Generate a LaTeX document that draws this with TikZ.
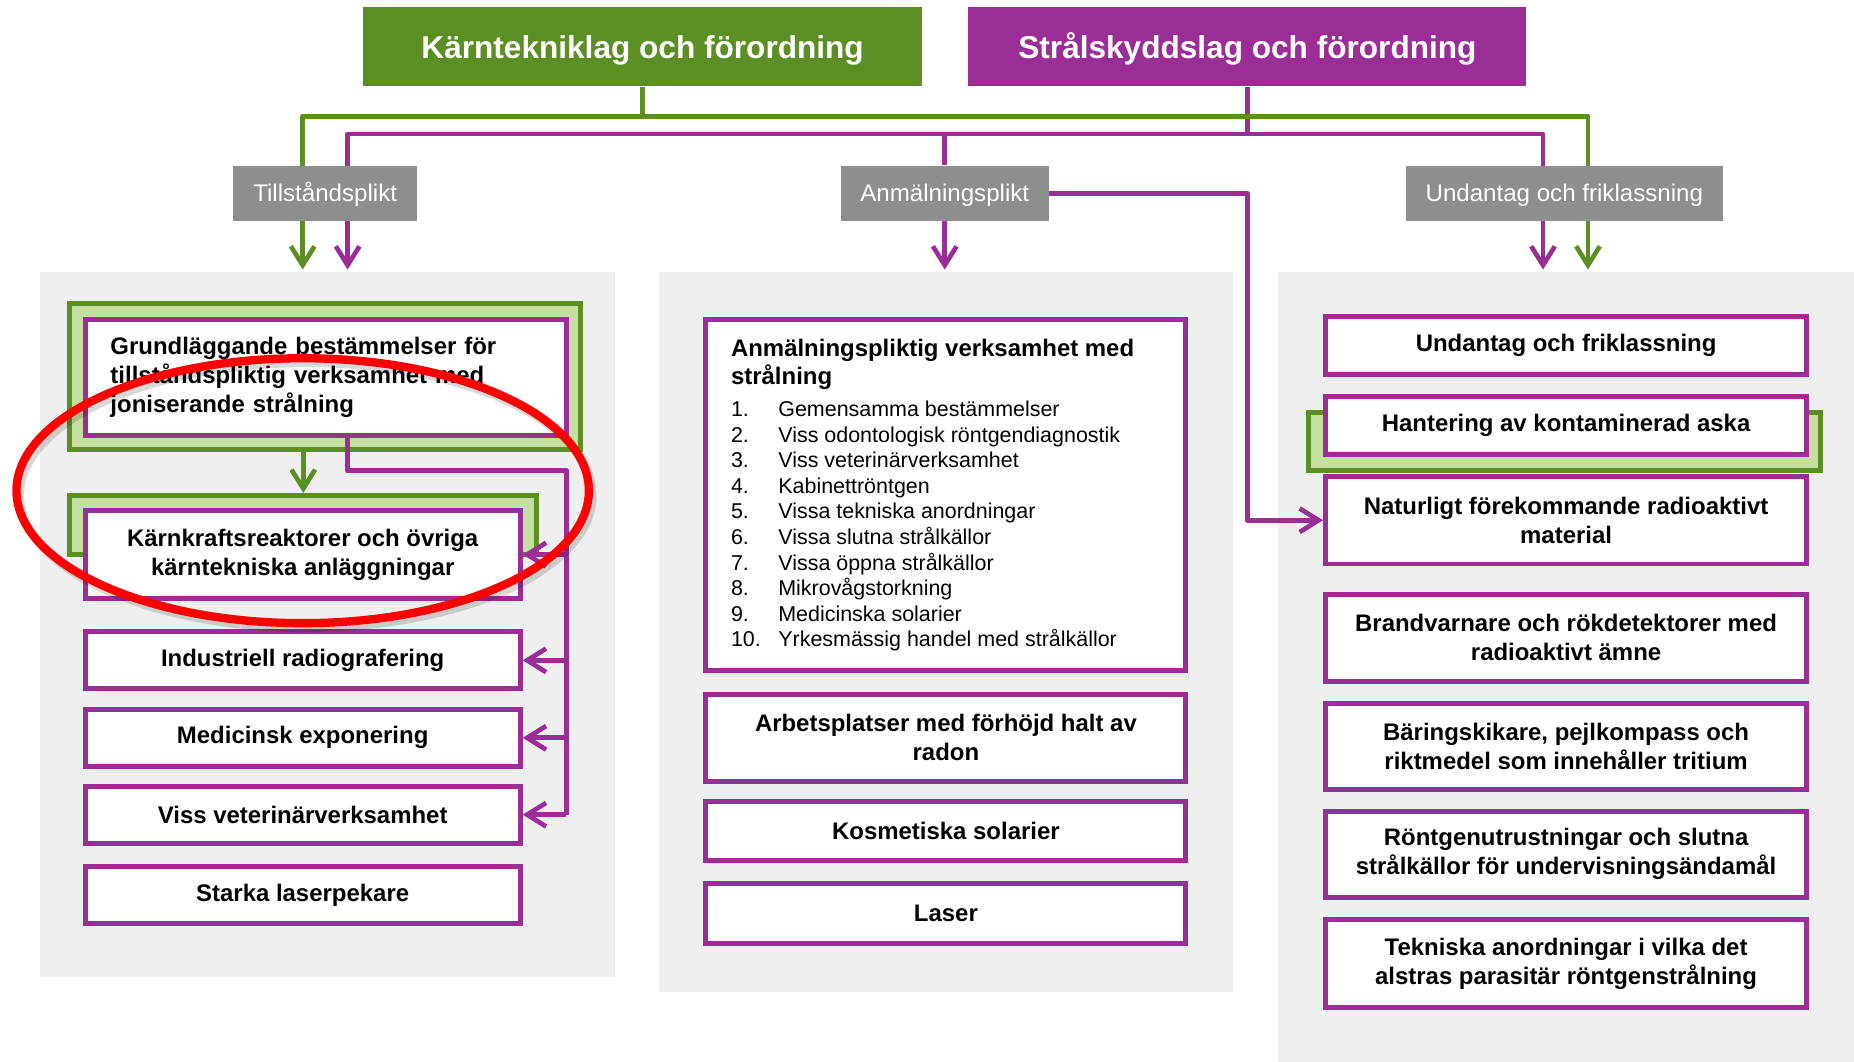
\documentclass[tikz,border=0pt]{standalone}
\usepackage{fontspec}
\setmainfont{Liberation Sans}
\usepackage{tikz}
\usetikzlibrary{arrows.meta,calc}
\definecolor{kgreen}{RGB}{91,142,35}
\definecolor{lgreen}{RGB}{196,223,160}
\definecolor{spurple}{RGB}{155,45,150}
\definecolor{dutygray}{RGB}{141,142,144}
\definecolor{panelgray}{RGB}{239,239,239}
\tikzstyle{law}=[text=white, inner sep=0pt, text height=13.6pt, text depth=0pt, font=\fontsize{19}{23}\selectfont\bfseries]
\tikzstyle{duty}=[fill=dutygray, text=white, inner sep=0pt, text height=10.4pt, text depth=0pt, font=\fontsize{14.5}{17}\selectfont]
\tikzstyle{panel}=[fill=panelgray, inner sep=0pt]
\tikzstyle{frame}=[draw=kgreen, fill=lgreen, line width=3pt, inner sep=0pt]
\tikzstyle{item}=[draw=spurple, fill=white, line width=3pt, inner sep=0pt, align=center, font=\fontsize{14.4}{17.4}\selectfont\bfseries]
\tikzstyle{listitem}=[anchor=base west, inner sep=0pt, font=\fontsize{12.9}{15.3}\selectfont]
\tikzstyle{gline}=[draw=kgreen, line width=2.8pt, line join=round]
\tikzstyle{pline}=[draw=spurple, line width=2.8pt, line join=round]
\tikzstyle{garrow}=[gline, -{Straight Barb[length=0.4cm,width=0.5cm]}]
\tikzstyle{parrow}=[pline, -{Straight Barb[length=0.4cm,width=0.5cm]}]
\tikzset{boxsize/.style 2 args={minimum width=#1*0.025cm, minimum height=#2*0.025cm}}
\pgfdeclarelayer{background}
\pgfsetlayers{background,main}

\begin{document}
\begin{tikzpicture}[x=0.025cm, y=-0.025cm]
    \useasboundingbox (0,0) rectangle (1568,898);
    \coordinate (gL) at (256,228);
    \coordinate (pL) at (294,228);
    \coordinate (pR) at (1305,228);
    \coordinate (gR) at (1343,228);
    \coordinate (bus) at (479,398);
    % laws
    \node[law, fill=kgreen, boxsize={473}{67}] (kt) at (543.5,39.5) {Kärntekniklag och förordning};
    \node[law, fill=spurple, boxsize={472}{67}] (sl) at (1055,39.5) {Strålskyddslag och förordning};
    % duties
    \node[duty, boxsize={156}{47}] (tp) at (275,163.5) {Tillståndsplikt};
    \node[duty, boxsize={176}{47}] (ap) at (799,163.5) {Anmälningsplikt};
    \node[duty, boxsize={268}{47}] (up) at (1323,163.5) {Undantag och friklassning};
    % left column
    \node[frame, boxsize={432}{123}] (grundframe) at (275,318.5) {};
    \node[item, boxsize={407}{98}, align=left, text width=9.1cm] (grund) at (275.5,319)
        {Grundläggande bestämmelser för\\tillståndspliktig verksamhet med\\joniserande strålning};
    \node[frame, boxsize={395}{50}] (karnframe) at (256.5,444) {};
    \node[item, boxsize={368}{74}] (karn) at (256,469) {Kärnkraftsreaktorer och övriga\\kärntekniska anläggningar};
    \foreach \name/\y/\txt in {ind/558.5/Industriell radiografering, med/624/Medicinsk exponering,
        vet/689/Viss veterinärverksamhet, lpek/757/Starka laserpekare}
        \node[item, boxsize={368}{48}] (\name) at (256,\y) {\txt};
    % middle column
    \node[item, boxsize={406}{297}] (anm) at (800,418.5) {};
    \node[anchor=north west, inner sep=0pt, align=left, font=\fontsize{14.4}{16.6}\selectfont\bfseries] (anmtitle)
        at (618,286.5) {Anmälningspliktig verksamhet med\\strålning};
    \foreach \n/\txt in {1/Gemensamma bestämmelser, 2/Viss odontologisk röntgendiagnostik,
        3/Viss veterinärverksamhet, 4/Kabinettröntgen, 5/Vissa tekniska anordningar,
        6/Vissa slutna strålkällor, 7/Vissa öppna strålkällor, 8/Mikrovågstorkning,
        9/Medicinska solarier, 10/Yrkesmässig handel med strålkällor}
        \node[listitem] (li\n) at (618,{330.9+21.6*\n}) {\makebox[1cm][l]{\n.}\txt};
    \node[item, boxsize={406}{74}] (arb) at (800,624) {Arbetsplatser med förhöjd halt av\\radon};
    \node[item, boxsize={406}{50}] (kos) at (800,703) {Kosmetiska solarier};
    \node[item, boxsize={406}{51}] (lsr) at (800,772.5) {Laser};
    % right column
    \node[item, boxsize={407}{49}] (und) at (1324.5,292.5) {Undantag och friklassning};
    \node[frame, boxsize={433}{49}] (askframe) at (1323.5,373.5) {};
    \node[item, boxsize={407}{49}] (hant) at (1324.5,359.5) {Hantering av kontaminerad aska};
    \node[item, boxsize={407}{74}] (nat) at (1324.5,440) {Naturligt förekommande radioaktivt\\material};
    \node[item, boxsize={407}{73}] (brand) at (1324.5,539.5) {Brandvarnare och rökdetektorer med\\radioaktivt ämne};
    \node[item, boxsize={407}{73}] (bar) at (1324.5,631.5) {Bäringskikare, pejlkompass och\\riktmedel som innehåller tritium};
    \node[item, boxsize={407}{73}] (ront) at (1324.5,722.5) {Röntgenutrustningar och slutna\\strålkällor för undervisningsändamål};
    \node[item, boxsize={407}{74}] (tek) at (1324.5,815) {Tekniska anordningar i vilka det\\alstras parasitär röntgenstrålning};
    % panels and top connectors
    \begin{pgfonlayer}{background}
        \node[panel, boxsize={486}{596}] (lp) at (277,528) {};
        \node[panel, boxsize={486}{609}] (mp) at (800,534.5) {};
        \node[panel, boxsize={487}{668}] (rp) at (1324.5,564) {};
        \draw[pline] (sl.south) -- ++(0,40) coordinate (pj);
        \draw[parrow] (pj) -| (pL);
        \draw[parrow] (pj) -| (pR);
        \draw[pline] (pj) -| (ap.north);
        \draw[parrow] (ap.south) -- (ap.south |- gL);
        \draw[parrow] (ap.east) -| (sl.south |- nat.west) -- (nat.west);
        \draw[gline] (kt.south) -- ++(0,25) coordinate (gj);
        \draw[garrow] (gj) -| (gL);
        \draw[garrow] (gj) -| (gR);
    \end{pgfonlayer}
    % left connectors
    \draw[garrow] (grundframe.south -| karnframe.north) -- (karnframe.north);
    \draw[pline] (grund.south -| pL) |- (bus) -- (bus |- vet.east);
    \foreach \name in {karn,ind,med,vet}
        \draw[parrow] (bus |- \name.east) -- (\name.east);
    % red mark
    \draw[black, opacity=0.15, line width=5pt] (259,419) ellipse [x radius=6.05cm, y radius=2.8cm];
    \draw[red, line width=5pt] (256,415) ellipse [x radius=6.05cm, y radius=2.8cm];
\end{tikzpicture}
\end{document}
